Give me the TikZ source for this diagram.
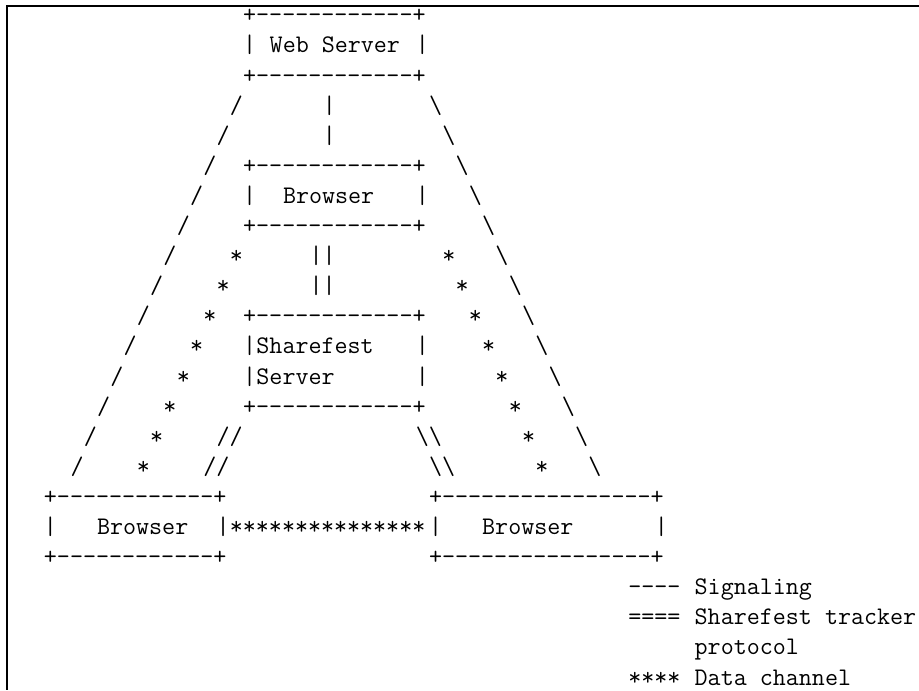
\documentclass[tikz,border=0pt]{standalone}
\usepackage{fontspec}
\setmonofont{Latin Modern Mono}

\begin{document}
\begin{tikzpicture}[
    x=13.28pt, y=-30.1pt,
    ascii/.style={font=\ttfamily\fontsize{25.3pt}{30pt}\selectfont, anchor=base west, inner sep=0pt, outer sep=0pt},
    frame/.style={line width=2pt, black}
]
\useasboundingbox (0,0) rectangle (69.2,22.924);
\draw[frame] (69.2,0.2) -- (0.53,0.2) -- (0.53,22.924);

\begin{scope}[shift={(3.31,0.76)}]
% web server
\node[ascii] (webT) at (15,0) {+------------+};
\node[ascii] (webL) at (15,1) {|};
\node[ascii] (web)  at (17,1) {Web Server};
\node[ascii] (webR) at (28,1) {|};
\node[ascii] (webB) at (15,2) {+------------+};

% browser in the middle
\node[ascii] (brT) at (15,5) {+------------+};
\node[ascii] (brL) at (15,6) {|};
\node[ascii] (br)  at (18,6) {Browser};
\node[ascii] (brR) at (28,6) {|};
\node[ascii] (brB) at (15,7) {+------------+};

% sharefest server
\node[ascii] (sfT)  at (15,10) {+------------+};
\node[ascii] (sfL1) at (15,11) {|};
\node[ascii] (sf1)  at (16,11) {Sharefest};
\node[ascii] (sfR1) at (28,11) {|};
\node[ascii] (sfL2) at (15,12) {|};
\node[ascii] (sf2)  at (16,12) {Server};
\node[ascii] (sfR2) at (28,12) {|};
\node[ascii] (sfB)  at (15,13) {+------------+};

% browsers at the bottom
\node[ascii] (blT) at (0,16) {+------------+};
\node[ascii] (blL) at (0,17) {|};
\node[ascii] (bl)  at (4,17) {Browser};
\node[ascii] (blR) at (13,17) {|};
\node[ascii] (blB) at (0,18) {+------------+};

\node[ascii] (bsT) at (29,16) {+----------------+};
\node[ascii] (bsL) at (29,17) {|};
\node[ascii] (bs)  at (33,17) {Browser};
\node[ascii] (bsR) at (46,17) {|};
\node[ascii] (bsB) at (29,18) {+----------------+};

% signaling
\foreach \r in {3,...,15}
  \node[ascii] (sigL\r) at ({17-\r},\r) {/};
\foreach \r in {3,...,15}
  \node[ascii] (sigR\r) at ({26+\r},\r) {\textbackslash};
\foreach \r in {3,4}
  \node[ascii] (sigM\r) at (21,\r) {|};

% tracker protocol
\foreach \r in {8,9}
  \node[ascii] (trk\r) at (20,\r) {||};
\node[ascii] (trkL14) at (13,14) {//};
\node[ascii] (trkL15) at (12,15) {//};
\node[ascii] (trkR14) at (28,14) {\textbackslash\textbackslash};
\node[ascii] (trkR15) at (29,15) {\textbackslash\textbackslash};

% data channel
\foreach \r in {8,...,15}
  \node[ascii] (dcL\r) at ({22-\r},\r) {*};
\foreach \r in {8,...,15}
  \node[ascii] (dcR\r) at ({22+\r},\r) {*};
\node[ascii] (dcB) at (14,17) {***************};

% legend
\node[ascii] (keySig)  at (44,19) {----};
\node[ascii] (txtSig)  at (49,19) {Signaling};
\node[ascii] (keyTrk)  at (44,20) {====};
\node[ascii] (txtTrk)  at (49,20) {Sharefest tracker};
\node[ascii] (txtTrk2) at (49,21) {protocol};
\node[ascii] (keyDc)   at (44,22) {****};
\node[ascii] (txtDc)   at (49,22) {Data channel};
\end{scope}
\end{tikzpicture}
\end{document}
